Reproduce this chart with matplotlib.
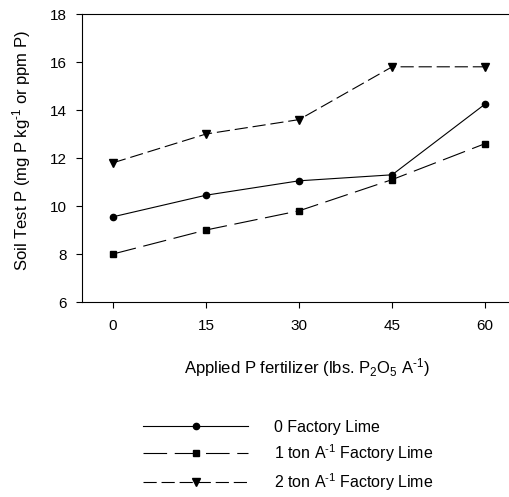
import matplotlib
matplotlib.use("Agg")
import matplotlib.pyplot as plt

plt.rcParams['font.family'] = ['Liberation Sans', 'DejaVu Sans']
plt.rcParams['lines.scale_dashes'] = False
plt.rcParams['mathtext.fontset'] = 'custom'
plt.rcParams['mathtext.rm'] = 'Liberation Sans'
plt.rcParams['mathtext.it'] = 'Liberation Sans'

x_vals = [0, 15, 30, 45, 60]
lime0 = [9.55, 10.45, 11.05, 11.3, 14.25]
lime1 = [8.0, 9.0, 9.8, 11.1, 12.6]
lime2 = [11.8, 13.0, 13.6, 15.8, 15.8]
labels = ['0 Factory Lime',
          '1 ton A$^{\u20101}$ Factory Lime',
          '2 ton A$^{\u20101}$ Factory Lime']
xticks = [0, 15, 30, 45, 60]
yticks = [6, 8, 10, 12, 14, 16, 18]

W, H = 510, 497
fig = plt.figure(figsize=(W / 100, H / 100), dpi=100)
ax = fig.add_axes([82 / W, 1 - 302 / H, (510 - 82) / W, (302 - 14) / H])

lw = 0.8
l0, = ax.plot(x_vals, lime0, color='black', lw=lw, marker='o', ms=4.5)
l1, = ax.plot(x_vals, lime1, color='black', lw=lw, marker='s', ms=5,
              dashes=(17, 5.5))
l2, = ax.plot(x_vals, lime2, color='black', lw=lw, marker='v', ms=5.5,
              dashes=(9.5, 3.5))

ax.set_xlim(-5, 64)
ax.set_ylim(6, 18)
ax.set_xticks(xticks)
ax.set_yticks(yticks)
ax.tick_params(labelsize=11, length=4, width=0.8, direction='out', pad=7)
ax.tick_params(axis='x', pad=8)
for s in ['left', 'top', 'bottom']:
    ax.spines[s].set_linewidth(0.8)
ax.spines['right'].set_visible(False)

ax.set_xlabel('Applied P fertilizer (lbs. P$_2$O$_5$ A$^{\u20101}$)', fontsize=12)
ax.set_ylabel('Soil Test P (mg P kg$^{\u20101}$ or ppm P)', fontsize=12)
ax.xaxis.set_label_coords((307 - 82) / (510 - 82), -(368 - 302) / 288)
ax.yaxis.set_label_coords(-(82 - 22) / (510 - 82), (302 - 150) / 288)
ax.xaxis.label.set_va('center')
ax.yaxis.label.set_va('center')

fig.legend([l0, l1, l2], labels, loc='upper left',
           bbox_to_anchor=(143 / W, 1 - 420 / H), frameon=False,
           fontsize=11.5, handlelength=6.6, handletextpad=1.6,
           labelspacing=0.45, borderaxespad=0, borderpad=0)

fig.savefig('out.png', dpi=100)
